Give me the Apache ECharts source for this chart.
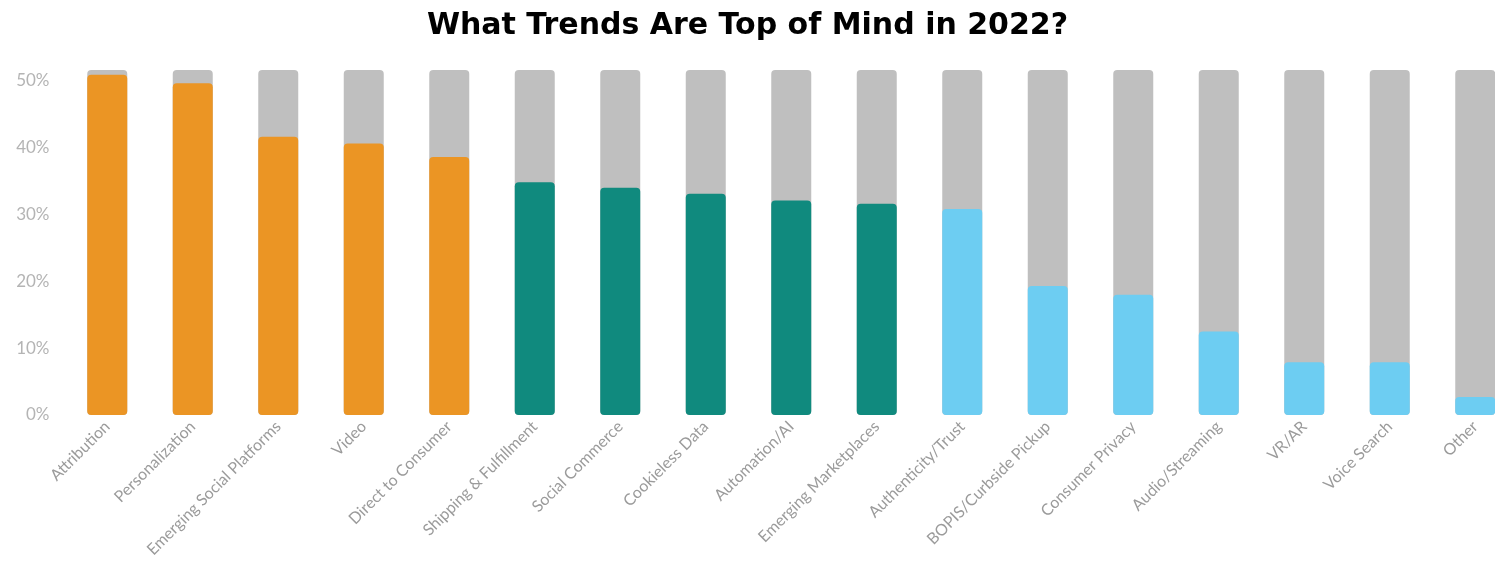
<!DOCTYPE html>
<html>
<head>
<meta charset="utf-8">
<script src="https://cdn.jsdelivr.net/npm/echarts@6/dist/echarts.min.js"></script>
<style>
  html, body { margin: 0; padding: 0; background: #ffffff; }
  #chart { width: 1495px; height: 572px; }
</style>
</head>
<body>
<div id="chart"></div>
<script>
// Trend names, in ranked order
const categories = [
  'Attribution', 'Personalization', 'Emerging Social Platforms', 'Video',
  'Direct to Consumer', 'Shipping & Fulfillment', 'Social Commerce',
  'Cookieless Data', 'Automation/AI', 'Emerging Marketplaces',
  'Authenticity/Trust', 'BOPIS/Curbside Pickup', 'Consumer Privacy',
  'Audio/Streaming', 'VR/AR', 'Voice Search', 'Other'
];

// Share of respondents (%) for each trend
const shares = [
  50.9, 49.6, 41.6, 40.6, 38.6, 34.8, 34.0, 33.1, 32.1, 31.6,
  30.8, 19.3, 18.0, 12.5, 7.9, 7.9, 2.7
];

// Tier each trend belongs to (drives the bar colour)
const tiers = [
  0, 0, 0, 0, 0, 1, 1, 1, 1, 1,
  2, 2, 2, 2, 2, 2, 2
];

// Y axis tick labels
const yTicks = [0, 10, 20, 30, 40, 50];
const yMax = 51.6;

const tierColors = ['#EB9524', '#108A7E', '#6DCDF2'];

const chart = echarts.init(document.getElementById('chart'));

chart.setOption({
  animation: false,
  backgroundColor: '#ffffff',
  title: {
    text: 'What Trends Are Top of Mind in 2022?',
    left: 'center',
    top: 6,
    textStyle: {
      fontFamily: 'DejaVu Sans',
      fontWeight: 'bold',
      fontSize: 30,
      color: '#000000'
    }
  },
  // the plot runs past the right edge, so the last bar is clipped
  grid: {
    left: 64.5,
    width: 1453.5,
    top: 70,
    bottom: 157,
    containLabel: false,
    outerBoundsMode: 'none'
  },
  xAxis: {
    type: 'category',
    data: categories,
    axisLine: { show: false },
    axisTick: { show: false },
    axisLabel: {
      rotate: 45,
      interval: 0,
      margin: 9,
      fontFamily: 'Lato',
      fontSize: 16,
      color: '#9b9b9b'
    }
  },
  yAxis: {
    type: 'value',
    min: 0,
    max: yMax,
    interval: 10,
    splitLine: { show: false },
    axisLine: { show: false },
    axisTick: { show: false },
    axisLabel: {
      margin: 15,
      fontFamily: 'Lato',
      fontSize: 17,
      color: '#b4b4b4',
      padding: [0, 0, 6, 0],
      formatter: function (v) {
        return yTicks.indexOf(v) >= 0 ? v + '%' : '';
      }
    }
  },
  series: [{
    type: 'bar',
    barWidth: 40,
    showBackground: true,
    backgroundStyle: {
      color: '#BFBFBF',
      borderRadius: 4
    },
    itemStyle: { borderRadius: 4 },
    data: shares.map(function (v, i) {
      return { value: v, itemStyle: { color: tierColors[tiers[i]] } };
    })
  }]
});
</script>
</body>
</html>
